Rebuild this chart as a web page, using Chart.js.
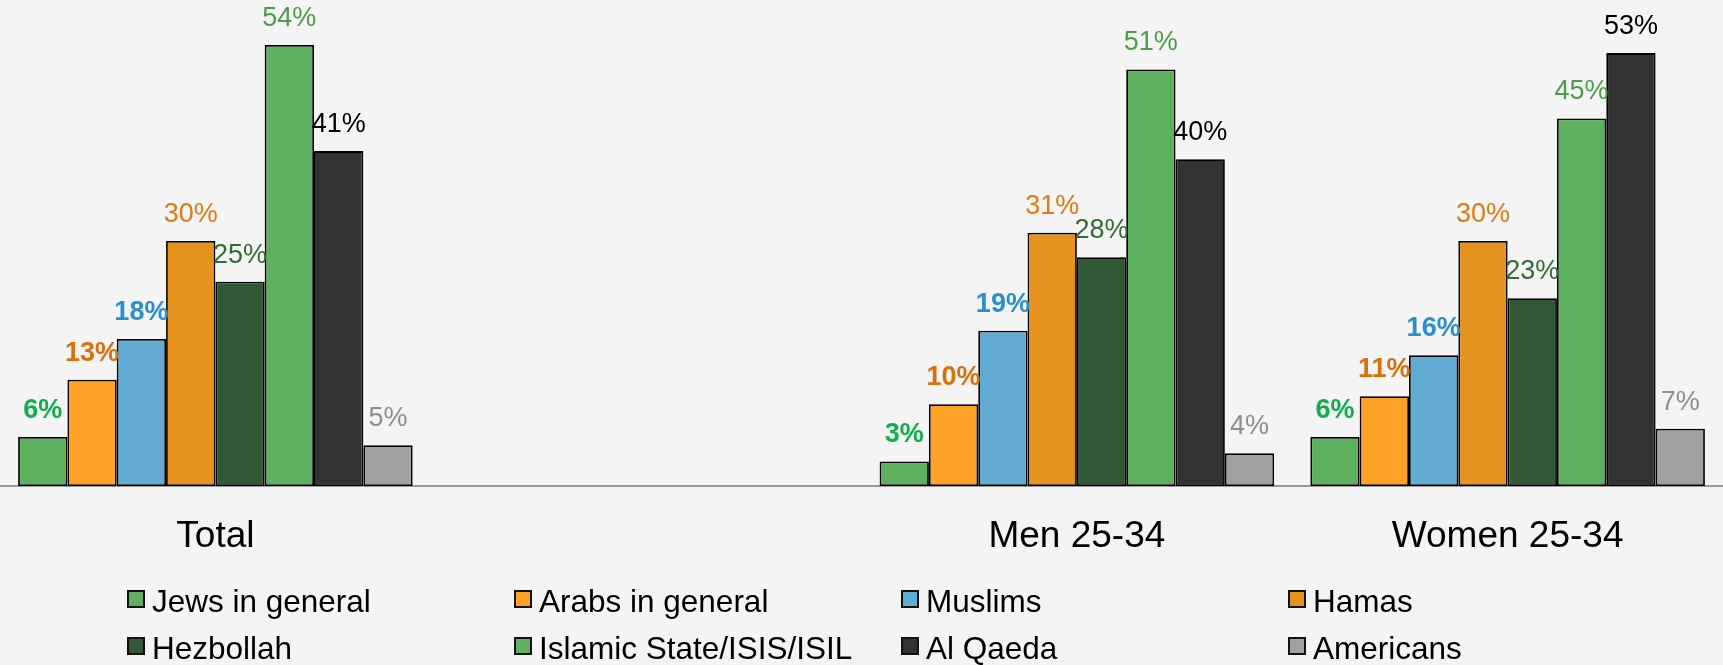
<!DOCTYPE html>
<html>
<head>
<meta charset="utf-8">
<script src="https://cdn.jsdelivr.net/npm/chart.js@4.4.1/dist/chart.umd.min.js"></script>
<style>
  html, body { margin: 0; padding: 0; background: #f4f4f4; }
  #wrap { position: relative; width: 1723px; height: 665px; overflow: hidden; }
  #legend { position: absolute; left: 127px; top: 584px; display: grid;
            grid-template-columns: repeat(4, 387px); grid-auto-rows: 47px;
            font-family: "Liberation Sans", Arial, sans-serif; font-size: 31.5px; color: #000; }
  .item { display: flex; align-items: center; height: 30px; white-space: nowrap; }
  .box { width: 14px; height: 14px; border: 2px solid #111; margin-right: 7px; flex: none; }
  .txt { line-height: 30px; position: relative; top: 2px; }
</style>
</head>
<body>
<div id="wrap">
  <canvas id="c" width="1723" height="665"></canvas>
  <div id="legend"></div>
</div>
<script>
const categories = ['Total', '', 'Men 25-34', 'Women 25-34'];
const seriesNames = ['Jews in general', 'Arabs in general', 'Muslims', 'Hamas',
                     'Hezbollah', 'Islamic State/ISIS/ISIL', 'Al Qaeda', 'Americans'];
const jews      = [6, null, 3, 6];
const arabs     = [13, null, 10, 11];
const muslims   = [18, null, 19, 16];
const hamas     = [30, null, 31, 30];
const hezbollah = [25, null, 28, 23];
const isis      = [54, null, 51, 45];
const alQaeda   = [41, null, 40, 53];
const americans = [5, null, 4, 7];
const seriesValues = [jews, arabs, muslims, hamas, hezbollah, isis, alQaeda, americans];

const barColors   = ['#5fb05f', '#ffa126', '#62abd2', '#e5921e', '#335835', '#5fb05f', '#323232', '#a0a0a0'];
const labelColors = ['#12ae4e', '#d9700b', '#2b8fcd', '#dd7a12', '#326b34', '#4a9e47', '#000000', '#8e8e8e'];
const labelBold   = [true, true, true, false, false, false, false, false];

const labelPlugin = {
  id: 'barLabels',
  afterDatasetsDraw(chart) {
    const ctx = chart.ctx;
    chart.data.datasets.forEach((ds, i) => {
      const meta = chart.getDatasetMeta(i);
      meta.data.forEach((bar, j) => {
        const v = ds.data[j];
        if (v == null) return;
        ctx.save();
        ctx.font = (labelBold[i] ? 'bold ' : '') + '27px "Liberation Sans", Arial, sans-serif';
        ctx.fillStyle = labelColors[i];
        ctx.textAlign = 'center';
        ctx.textBaseline = 'alphabetic';
        ctx.fillText(v + '%', bar.x, bar.y - 19);
        ctx.restore();
      });
    });
  }
};

const chart = new Chart(document.getElementById('c'), {
  type: 'bar',
  data: {
    labels: categories,
    datasets: seriesNames.map((name, i) => ({
      label: name,
      data: seriesValues[i],
      backgroundColor: barColors[i],
      borderColor: '#000000',
      borderWidth: 1.8,
      borderSkipped: false,
      barPercentage: 1,
      categoryPercentage: 0.916
    }))
  },
  options: {
    responsive: false,
    animation: false,
    layout: { padding: 0 },
    plugins: { legend: { display: false }, tooltip: { enabled: false } },
    scales: {
      x: {
        grid: { display: false },
        border: { display: true, color: '#999999', width: 2 },
        ticks: { color: '#000', padding: 21, font: { family: '"Liberation Sans", Arial, sans-serif', size: 37 } },
        afterFit(scale) { scale.height = 179; }
      },
      y: { display: false, min: 0, max: 59.5 }
    }
  },
  plugins: [labelPlugin]
});

const legend = document.getElementById('legend');
seriesNames.forEach((name, i) => {
  const it = document.createElement('div');
  it.className = 'item';
  const b = document.createElement('span');
  b.className = 'box';
  b.style.background = barColors[i];
  const t = document.createElement('span');
  t.className = 'txt';
  t.textContent = name;
  it.appendChild(b); it.appendChild(t);
  legend.appendChild(it);
});
</script>
</body>
</html>
